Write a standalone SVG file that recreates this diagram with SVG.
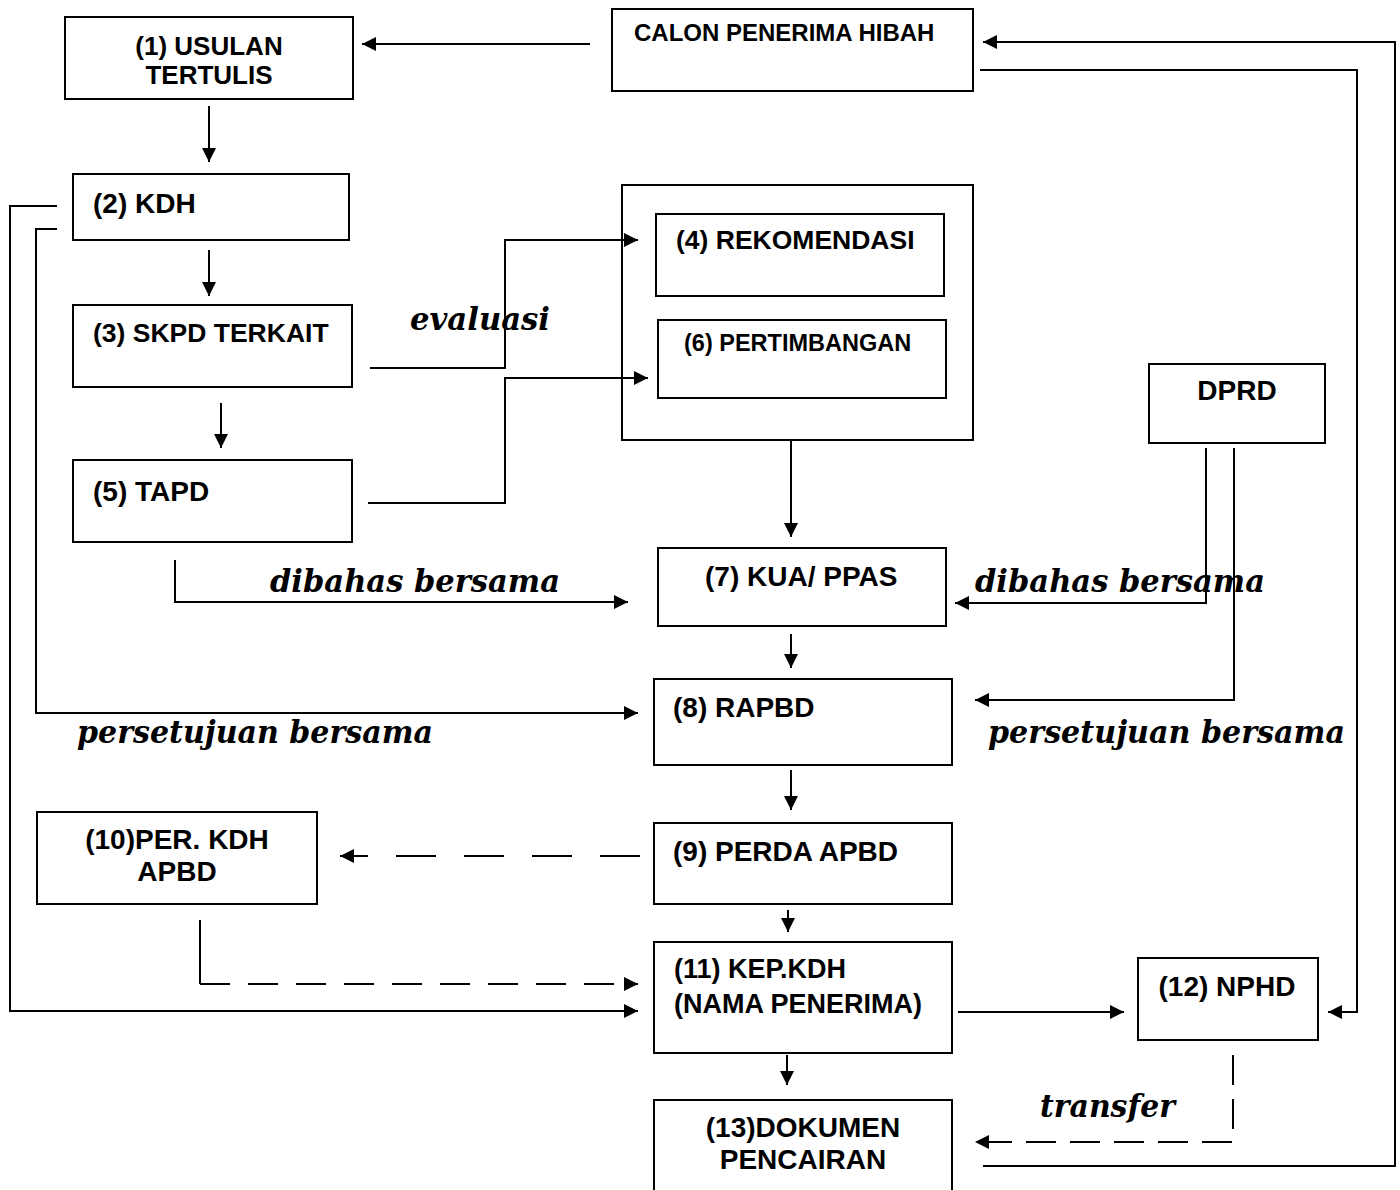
<svg xmlns="http://www.w3.org/2000/svg" width="1400" height="1190" viewBox="0 0 1400 1190">
<style>
.box{fill:#fff;stroke:#000;stroke-width:2}
.frame{fill:none;stroke:#000;stroke-width:2}
.lbl{font-family:"Liberation Sans",Arial,sans-serif;font-weight:bold;font-size:27px;fill:#000}
.it{font-family:"DejaVu Serif","Liberation Serif",serif;font-weight:bold;font-style:italic;font-size:31px;fill:#000}
.c{fill:none;stroke:#000;stroke-width:2}
.d{stroke-dasharray:40 28}
</style>
<defs>
<marker id="ah" viewBox="0 0 12 12" refX="12" refY="6" markerWidth="14" markerHeight="14" markerUnits="userSpaceOnUse" orient="auto"><path d="M0,0 L12,6 L0,12 z" fill="#000"/></marker>
</defs>
<rect width="1400" height="1190" fill="#fff"/>
<g id="group46"><rect class="frame" x="622" y="185" width="351" height="255"/></g>
<g id="n1"><rect class="box" x="65" y="17" width="288" height="82"/><text class="lbl" x="209" y="55" text-anchor="middle" style="font-size:26px">(1) USULAN</text><text class="lbl" x="209" y="84" text-anchor="middle" style="font-size:26px">TERTULIS</text></g>
<g id="calon"><rect class="box" x="612" y="9" width="361" height="82"/><text class="lbl" x="634" y="41" style="font-size:24px">CALON PENERIMA HIBAH</text></g>
<g id="n2"><rect class="box" x="73" y="174" width="276" height="66"/><text class="lbl" x="93" y="213" style="font-size:28px">(2) KDH</text></g>
<g id="n3"><rect class="box" x="73" y="305" width="279" height="82"/><text class="lbl" x="93" y="342" style="font-size:26.5px">(3) SKPD TERKAIT</text></g>
<g id="n5"><rect class="box" x="73" y="460" width="279" height="82"/><text class="lbl" x="93" y="501" style="font-size:28px">(5) TAPD</text></g>
<g id="n4"><rect class="box" x="656" y="214" width="288" height="82"/><text class="lbl" x="676" y="249" style="font-size:26.5px">(4) REKOMENDASI</text></g>
<g id="n6"><rect class="box" x="658" y="320" width="288" height="78"/><text class="lbl" x="684" y="351" style="font-size:23.5px">(6) PERTIMBANGAN</text></g>
<g id="dprd"><rect class="box" x="1149" y="364" width="176" height="79"/><text class="lbl" x="1237" y="400" text-anchor="middle" style="font-size:28px">DPRD</text></g>
<g id="n7"><rect class="box" x="658" y="548" width="288" height="78"/><text class="lbl" x="705" y="586" style="font-size:28px">(7) KUA/ PPAS</text></g>
<g id="n8"><rect class="box" x="654" y="679" width="298" height="86"/><text class="lbl" x="673" y="717" style="font-size:28px">(8) RAPBD</text></g>
<g id="n9"><rect class="box" x="654" y="823" width="298" height="81"/><text class="lbl" x="673" y="861" style="font-size:28px">(9) PERDA APBD</text></g>
<g id="n10"><rect class="box" x="37" y="812" width="280" height="92"/><text class="lbl" x="177" y="849" text-anchor="middle" style="font-size:28px">(10)PER. KDH</text><text class="lbl" x="177" y="881" text-anchor="middle" style="font-size:28px">APBD</text></g>
<g id="n11"><rect class="box" x="654" y="942" width="298" height="111"/><text class="lbl" x="674" y="978">(11) KEP.KDH</text><text class="lbl" x="674" y="1013">(NAMA PENERIMA)</text></g>
<g id="n12"><rect class="box" x="1138" y="958" width="180" height="82"/><text class="lbl" x="1227" y="996" text-anchor="middle" style="font-size:28px">(12) NPHD</text></g>
<g id="n13"><rect class="box" x="654" y="1100" width="298" height="110"/><text class="lbl" x="803" y="1137" text-anchor="middle" style="font-size:28px">(13)DOKUMEN</text><text class="lbl" x="803" y="1169" text-anchor="middle" style="font-size:28px">PENCAIRAN</text></g>
<g id="connectors">
<path class="c" d="M590,44 L362,44" marker-end="url(#ah)"/>
<path class="c" d="M209,106 L209,162" marker-end="url(#ah)"/>
<path class="c" d="M209,250 L209,296" marker-end="url(#ah)"/>
<path class="c" d="M221,403 L221,448" marker-end="url(#ah)"/>
<path class="c" d="M370,368 L505,368 L505,240 L638,240" marker-end="url(#ah)"/>
<path class="c" d="M368,503 L505,503 L505,378 L648,378" marker-end="url(#ah)"/>
<path class="c" d="M791,440 L791,537" marker-end="url(#ah)"/>
<path class="c" d="M175,560 L175,602 L628,602" marker-end="url(#ah)"/>
<path class="c" d="M1206,448 L1206,603 L955,603" marker-end="url(#ah)"/>
<path class="c" d="M1234,448 L1234,700 L975,700" marker-end="url(#ah)"/>
<path class="c" d="M791,634 L791,668" marker-end="url(#ah)"/>
<path class="c" d="M57,229 L36,229 L36,713 L638,713" marker-end="url(#ah)"/>
<path class="c" d="M57,206 L10,206 L10,1011 L638,1011" marker-end="url(#ah)"/>
<path class="c" d="M791,770 L791,810" marker-end="url(#ah)"/>
<path class="c d" d="M640,856 L340,856" marker-end="url(#ah)"/>
<path class="c" d="M200,920 L200,984"/>
<path class="c" d="M200,984 L638,984" style="stroke-dasharray:30 18" marker-end="url(#ah)"/>
<path class="c" d="M788,910 L788,932" marker-end="url(#ah)"/>
<path class="c" d="M958,1012 L1124,1012" marker-end="url(#ah)"/>
<path class="c" d="M980,70 L1357,70 L1357,1012 L1328,1012" marker-end="url(#ah)"/>
<path class="c" d="M983,1166 L1395,1166 L1395,42 L983,42" marker-end="url(#ah)"/>
<path class="c" d="M787,1055 L787,1085" marker-end="url(#ah)"/>
<path class="c" d="M1233,1055 L1233,1142 L975,1142" style="stroke-dasharray:30 14" marker-end="url(#ah)"/>
<text class="it" x="410" y="330" textLength="140" lengthAdjust="spacingAndGlyphs">evaluasi</text>
<text class="it" x="270" y="592" textLength="290" lengthAdjust="spacingAndGlyphs">dibahas bersama</text>
<text class="it" x="975" y="592" textLength="290" lengthAdjust="spacingAndGlyphs">dibahas bersama</text>
<text class="it" x="77" y="743" textLength="356" lengthAdjust="spacingAndGlyphs">persetujuan bersama</text>
<text class="it" x="988" y="743" textLength="357" lengthAdjust="spacingAndGlyphs">persetujuan bersama</text>
<text class="it" x="1040" y="1117" textLength="135" lengthAdjust="spacingAndGlyphs">transfer</text>
</g>
</svg>
